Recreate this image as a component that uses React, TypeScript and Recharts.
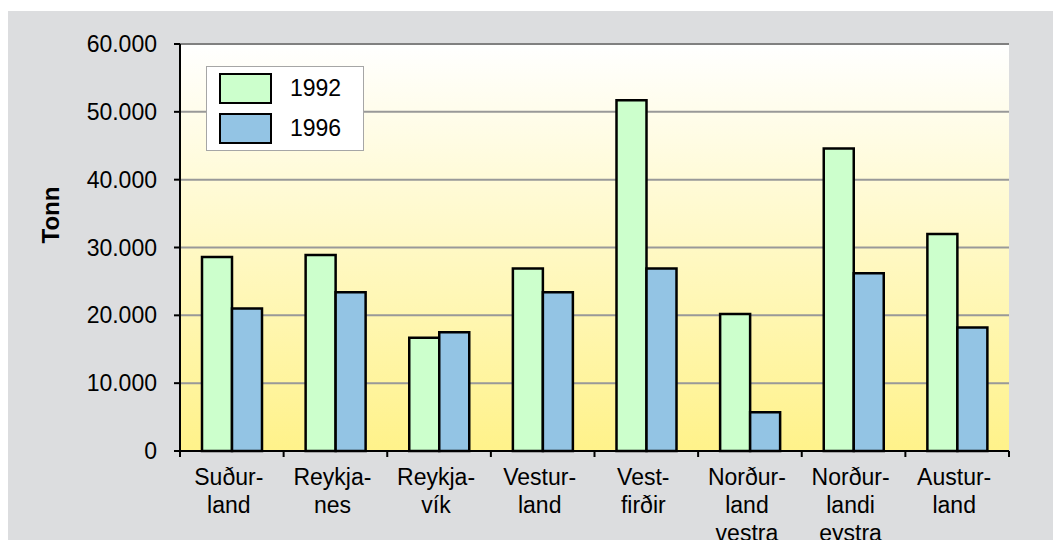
import { BarChart, Bar, XAxis, YAxis, CartesianGrid, Legend, ReferenceLine } from 'recharts'

const regionLines = [
  ['Suður-', 'land'],
  ['Reykja-', 'nes'],
  ['Reykja-', 'vík'],
  ['Vestur-', 'land'],
  ['Vest-', 'firðir'],
  ['Norður-', 'land', 'vestra'],
  ['Norður-', 'landi', 'eystra'],
  ['Austur-', 'land'],
]
const values1992 = [28600, 28900, 16700, 26900, 51700, 20200, 44600, 32000]
const values1996 = [21000, 23400, 17500, 23400, 26900, 5700, 26200, 18200]
const yTicks = [0, 10000, 20000, 30000, 40000, 50000, 60000]

const data = regionLines.map((lines, i) => ({
  region: lines.join(' '),
  y1992: values1992[i],
  y1996: values1996[i],
}))

const W = 1045
const H = 529
const X_H = 30
const MARGIN = { top: 33, right: 44, bottom: 89 - X_H, left: 72 }
const Y_W = 100
const PLOT_W = W - MARGIN.left - MARGIN.right - Y_W
const BAND = PLOT_W / regionLines.length
const FONT = '"Liberation Sans", Arial, sans-serif'

const fmt = (v: number) => String(v).replace(/\B(?=(\d{3})+(?!\d))/g, '.')

function RegionTick(props: any) {
  const { x, y, index } = props
  const lines = regionLines[index] || []
  const last = index === regionLines.length - 1
  return (
    <g>
      <line x1={x - BAND / 2} x2={x - BAND / 2} y1={y - 6} y2={y} stroke="#000" strokeWidth={2} />
      {last && <line x1={x + BAND / 2} x2={x + BAND / 2} y1={y - 6} y2={y} stroke="#000" strokeWidth={2} />}
      {lines.map((t, i) => (
        <text key={i} x={x - 3} y={y + 20 + i * 28} textAnchor="middle" dominantBaseline="central"
          fontSize={23} fontFamily={FONT} fill="#000">{t}</text>
      ))}
    </g>
  )
}

function LegendBox({ payload }: any) {
  return (
    <div style={{ width: 156, height: 83, background: '#fff', border: '1px solid #a6a6a6', position: 'relative', fontFamily: FONT, fontSize: 23 }}>
      {(payload || []).map((p: any, i: number) => (
        <div key={p.value} style={{ position: 'absolute', left: 12, top: 6 + i * 40, display: 'flex', alignItems: 'center' }}>
          <div style={{ width: 49, height: 27, background: p.color, border: '2px solid #000' }} />
          <span style={{ marginLeft: 18, color: '#000' }}>{p.value}</span>
        </div>
      ))}
    </div>
  )
}

export default function App() {
  return (
    <div style={{ position: 'fixed', left: 8, top: 11, width: W, height: H, background: '#dcdddf' }}>
      <BarChart width={W} height={H} data={data} margin={MARGIN} barSize={30} barGap={0}>
        <defs>
          <linearGradient id="plotBg" x1="0" y1="0" x2="0" y2="1">
            <stop offset="0%" stopColor="#ffffff" />
            <stop offset="100%" stopColor="#fff28a" />
          </linearGradient>
        </defs>
        <CartesianGrid yAxisId="left" vertical={false} stroke="#999" strokeWidth={2} fill="url(#plotBg)" fillOpacity={1} />
        <XAxis dataKey="region" height={X_H} interval={0} tickSize={6} tickMargin={0} tickLine={false}
          axisLine={{ stroke: '#000', strokeWidth: 2 }} tick={<RegionTick />} />
        <YAxis yAxisId="left" width={Y_W} domain={[0, 60000]} ticks={yTicks} tickFormatter={fmt}
          tickSize={6} tickMargin={17} axisLine={{ stroke: '#000', strokeWidth: 2 }}
          tickLine={{ stroke: '#000', strokeWidth: 2 }}
          tick={{ fontSize: 23, fontFamily: FONT, fill: '#000' }} />
        <YAxis yAxisId="right" orientation="right" width={0} tick={false} tickLine={false}
          axisLine={{ stroke: '#808080', strokeWidth: 2 }} />
        <ReferenceLine yAxisId="left" y={60000} stroke="#808080" strokeWidth={2} />
        <Legend layout="vertical" align="center" verticalAlign="middle" content={<LegendBox />}
          wrapperStyle={{ left: 198, top: 55, width: 158, height: 85 }} />
        <Bar yAxisId="left" dataKey="y1992" name="1992" fill="#ccffcc" stroke="#000" strokeWidth={2.5} isAnimationActive={false} />
        <Bar yAxisId="left" dataKey="y1996" name="1996" fill="#93c4e4" stroke="#000" strokeWidth={2.5} isAnimationActive={false} />
        <text x={42} y={204} transform="rotate(-90 42 204)" textAnchor="middle" dominantBaseline="central"
          fontSize={24} fontWeight="bold" fontFamily={FONT} fill="#000">Tonn</text>
      </BarChart>
    </div>
  )
}
